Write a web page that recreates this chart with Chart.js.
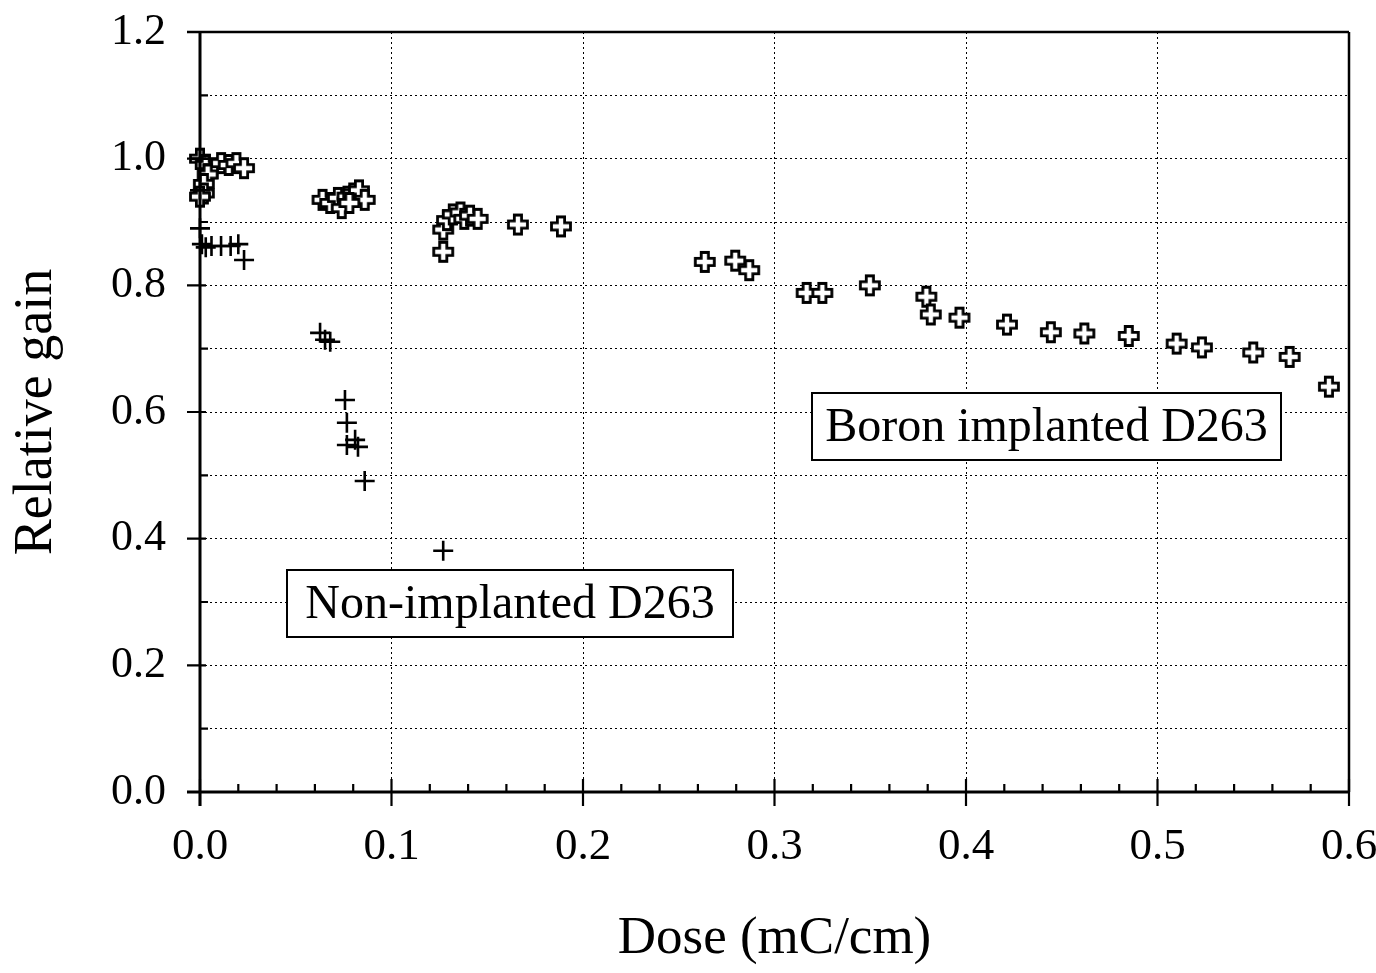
<!DOCTYPE html>
<html>
<head>
<meta charset="utf-8">
<script src="https://cdn.jsdelivr.net/npm/chart.js@4/dist/chart.umd.min.js"></script>
<style>
  html, body { margin: 0; padding: 0; background: #fff; }
  #wrap { width: 1376px; height: 973px; }
</style>
</head>
<body>
<div id="wrap"><canvas id="gainChart" width="1376" height="973"></canvas></div>
<script>
// Relative gain vs dose, two glass substrates

// Boron implanted D263 (open cross markers)
const boronDose = [
  0.000, 0.003, 0.007, 0.011, 0.015, 0.019, 0.023, 0.004, 0.002, 0.002, 0.000,
  0.064, 0.068, 0.072, 0.074, 0.077, 0.080, 0.083, 0.086, 0.078,
  0.127, 0.127, 0.129, 0.132, 0.136, 0.138, 0.141, 0.145, 0.166, 0.1885,
  0.2636, 0.2795, 0.2868, 0.3168, 0.325, 0.3498, 0.3793, 0.3816, 0.3966,
  0.4214, 0.4443, 0.4618, 0.485, 0.510, 0.5232, 0.550, 0.569, 0.5895
];
const boronGain = [
  1.000, 0.990, 0.985, 0.993, 0.990, 0.993, 0.985, 0.975, 0.960, 0.945, 0.940,
  0.935, 0.930, 0.938, 0.922, 0.940, 0.945, 0.950, 0.935, 0.930,
  0.853, 0.888, 0.903, 0.912, 0.915, 0.905, 0.910, 0.905, 0.896, 0.893,
  0.837, 0.839, 0.824, 0.788, 0.788, 0.800, 0.782, 0.754, 0.749,
  0.738, 0.726, 0.724, 0.720, 0.708, 0.702, 0.694, 0.687, 0.640
];

// Non-implanted D263 (plain + markers)
const plainDose = [
  0.000, 0.000, 0.000, 0.001, 0.003, 0.006, 0.011, 0.016, 0.020, 0.023,
  0.0627, 0.0653, 0.068, 0.0757, 0.0767, 0.0767, 0.081, 0.0825, 0.086, 0.127
];
const plainGain = [
  1.000, 0.950, 0.890, 0.865, 0.860, 0.862, 0.862, 0.862, 0.865, 0.840,
  0.725, 0.714, 0.711, 0.619, 0.583, 0.548, 0.556, 0.545, 0.491, 0.381
];

const xTicks = [0, 0.1, 0.2, 0.3, 0.4, 0.5, 0.6];
const yTicks = [0, 0.2, 0.4, 0.6, 0.8, 1.0, 1.2];

const FONT = 'Liberation Serif';

// open "+" marker drawn once on a small canvas
function openCross() {
  const c = document.createElement('canvas');
  c.width = 24; c.height = 24;
  const g = c.getContext('2d');
  const m = 12, a = 3.6, l = 9.5;
  g.beginPath();
  g.moveTo(m - a, m - l); g.lineTo(m + a, m - l); g.lineTo(m + a, m - a);
  g.lineTo(m + l, m - a); g.lineTo(m + l, m + a); g.lineTo(m + a, m + a);
  g.lineTo(m + a, m + l); g.lineTo(m - a, m + l); g.lineTo(m - a, m + a);
  g.lineTo(m - l, m + a); g.lineTo(m - l, m - a); g.lineTo(m - a, m - a);
  g.closePath();
  g.fillStyle = '#fff';
  g.fill();
  g.lineWidth = 2.8;
  g.strokeStyle = '#000';
  g.stroke();
  return c;
}

const zip = (xs, ys) => xs.map((x, i) => ({ x, y: ys[i] }));

// frame, crossing ticks and the two label boxes
const framePlugin = {
  id: 'frame',
  afterDatasetsDraw(chart) {
    const { ctx, chartArea: a, scales } = chart;
    const xs = scales.x, ys = scales.y;
    ctx.save();
    ctx.strokeStyle = '#000';
    ctx.lineCap = 'butt';

    // top & right border
    ctx.lineWidth = 2.5;
    ctx.beginPath();
    ctx.moveTo(a.left - 13, a.top); ctx.lineTo(a.right, a.top);
    ctx.moveTo(a.right, a.top); ctx.lineTo(a.right, a.bottom);
    ctx.stroke();

    // axes
    ctx.lineWidth = 3;
    ctx.beginPath();
    ctx.moveTo(a.left, a.top); ctx.lineTo(a.left, a.bottom + 14);
    ctx.moveTo(a.left - 13, a.bottom); ctx.lineTo(a.right, a.bottom);
    ctx.stroke();

    ctx.lineWidth = 2.2;
    ctx.beginPath();
    for (let i = 0; i <= 30; i++) {
      const px = xs.getPixelForValue(i * 0.02);
      if (i % 5 === 0) {
        ctx.moveTo(px, a.bottom - 13); ctx.lineTo(px, a.bottom + 14);
      } else {
        ctx.moveTo(px, a.bottom - 8); ctx.lineTo(px, a.bottom);
      }
    }
    for (let i = 0; i <= 12; i++) {
      const py = ys.getPixelForValue(i * 0.1);
      if (i % 2 === 0) {
        ctx.moveTo(a.left - 13, py); ctx.lineTo(a.left + 6, py);
      } else {
        ctx.moveTo(a.left, py); ctx.lineTo(a.left + 8, py);
      }
    }
    ctx.stroke();

    // label boxes
    const boxes = [
      { text: 'Boron implanted D263', x0: 812, y0: 393, x1: 1281, y1: 460 },
      { text: 'Non-implanted D263', x0: 287, y0: 570, x1: 733, y1: 637 }
    ];
    ctx.font = '48px "' + FONT + '"';
    ctx.textAlign = 'center';
    ctx.textBaseline = 'middle';
    boxes.forEach((b) => {
      ctx.fillStyle = '#fff';
      ctx.fillRect(b.x0, b.y0, b.x1 - b.x0, b.y1 - b.y0);
      ctx.lineWidth = 2;
      ctx.strokeRect(b.x0, b.y0, b.x1 - b.x0, b.y1 - b.y0);
      ctx.fillStyle = '#000';
      ctx.fillText(b.text, (b.x0 + b.x1) / 2, (b.y0 + b.y1) / 2 + 2);
    });
    ctx.restore();
  }
};

const near = (v, list) => list.some((t) => Math.abs(t - v) < 1e-6);

new Chart(document.getElementById('gainChart'), {
  type: 'scatter',
  data: {
    datasets: [
      {
        label: 'Non-implanted D263',
        data: zip(plainDose, plainGain),
        pointStyle: 'cross',
        pointRadius: 10,
        borderColor: '#000',
        borderWidth: 2.6,
        clip: false
      },
      {
        label: 'Boron implanted D263',
        data: zip(boronDose, boronGain),
        pointStyle: openCross(),
        pointRadius: 10,
        clip: false
      }
    ]
  },
  options: {
    responsive: false,
    animation: false,
    events: [],
    layout: { padding: { top: 32, right: 27, left: 0, bottom: 0 } },
    plugins: { legend: { display: false }, tooltip: { enabled: false } },
    scales: {
      x: {
        type: 'linear',
        min: 0, max: 0.6,
        afterFit: (s) => { s.height = 181; s.paddingLeft = 0; s.paddingRight = 0; },
        afterBuildTicks: (s) => { s.ticks = xTicks.map((v) => ({ value: v })); },
        ticks: {
          color: '#000',
          padding: 28,
          font: { family: FONT, size: 45 },
          callback: (v) => v.toFixed(1)
        },
        grid: { color: '#000', lineWidth: 1, drawTicks: false },
        border: { display: false, dash: [2, 3] },
        title: {
          display: true,
          text: 'Dose (mC/cm)',
          color: '#000',
          font: { family: FONT, size: 53 },
          padding: { top: 0, bottom: 2 }
        }
      },
      y: {
        type: 'linear',
        min: 0, max: 1.2,
        afterFit: (s) => { s.width = 200; s.paddingTop = 0; s.paddingBottom = 0; },
        afterBuildTicks: (s) => {
          const t = [];
          for (let i = 0; i <= 12; i++) t.push({ value: Math.round(i * 10) / 100 });
          s.ticks = t;
        },
        ticks: {
          color: '#000',
          padding: 34,
          font: { family: FONT, size: 44 },
          callback: (v) => (near(v, yTicks) ? v.toFixed(1) : '')
        },
        grid: { color: '#000', lineWidth: 1, drawTicks: false },
        border: { display: false, dash: [2, 3] },
        title: {
          display: true,
          text: 'Relative gain',
          color: '#000',
          font: { family: FONT, size: 54 },
          padding: { top: 4, bottom: 0 }
        }
      }
    }
  },
  plugins: [framePlugin]
});
</script>
</body>
</html>
